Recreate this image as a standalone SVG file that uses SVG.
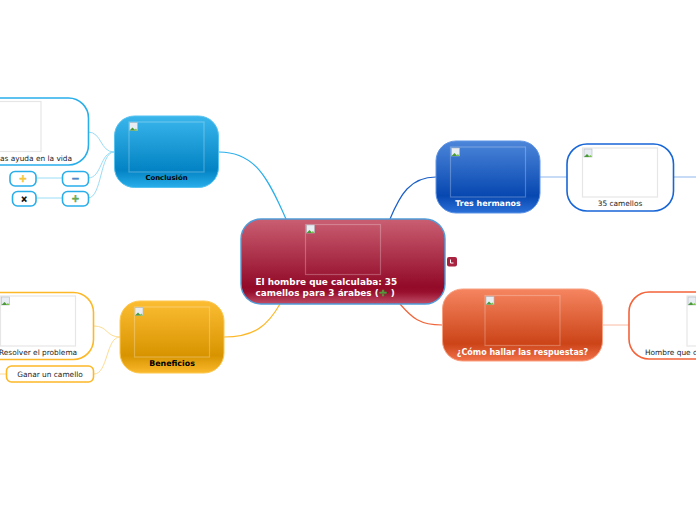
<svg xmlns="http://www.w3.org/2000/svg" width="696" height="520" viewBox="0 0 696 520">
<style>
text{font-family:"DejaVu Sans",Verdana,sans-serif;font-size:7.4px;fill:#1c1c1c}
.t{font-weight:bold;font-size:7.9px}
.w{fill:#fff}
.k{fill:#000}
.img{fill:none;stroke:#fff;stroke-opacity:.25;stroke-width:1.2}
.pic{fill:#fff;stroke:#e6e6e6;stroke-width:1.2}
.c{fill:none;stroke-width:1}
.h{stroke-width:1.2}
.n{fill:#fff;stroke-width:1.6}
.b{stroke:#29aeea}
.o{stroke:#fdb827}
.u{stroke:#1766d8}
.r{stroke:#f4633a}
.sym{font-weight:bold;font-size:10px;stroke-width:.5}
</style>
<defs>
<linearGradient id="gm" x1="0" y1="0" x2="0" y2="1"><stop offset="0" stop-color="#ca5f72"/><stop offset=".8" stop-color="#920a28"/><stop offset=".86" stop-color="#990f2e"/><stop offset="1" stop-color="#bf4e66"/></linearGradient>
<linearGradient id="gb" x1="0" y1="0" x2="0" y2="1"><stop offset="0" stop-color="#3ab6ec"/><stop offset=".76" stop-color="#0383c4"/><stop offset="1" stop-color="#28aeea"/></linearGradient>
<linearGradient id="go" x1="0" y1="0" x2="0" y2="1"><stop offset="0" stop-color="#fcbd33"/><stop offset=".76" stop-color="#d89400"/><stop offset="1" stop-color="#fab92c"/></linearGradient>
<linearGradient id="gu" x1="0" y1="0" x2="0" y2="1"><stop offset="0" stop-color="#4c86da"/><stop offset=".76" stop-color="#0747b0"/><stop offset="1" stop-color="#2a70d8"/></linearGradient>
<linearGradient id="gr" x1="0" y1="0" x2="0" y2="1"><stop offset="0" stop-color="#f58560"/><stop offset=".76" stop-color="#cc4418"/><stop offset="1" stop-color="#f2724a"/></linearGradient>
<g id="ico"><rect x="0" y="0" width="8" height="8" fill="#e8edf3" stroke="#b0b8c0" stroke-width=".6"/><path d="M0 8L3 5L6 8Z" fill="#4a9a3a"/><path d="M4 8L6.500 6L8 8Z" fill="#7cc050"/></g>
</defs>
<g id="connectors">
<path class="c h" stroke="#29aeea" d="M219 152C255 152 268 178 286 219"/>
<path class="c h" stroke="#1a5fc8" d="M436 177C410 177 400 195 390 219"/>
<path class="c h" stroke="#f0653a" d="M442 325C420 325 412 318 400 304"/>
<path class="c h" stroke="#fdb827" d="M224 337C255 337 268 325 280 304"/>
<path class="c" stroke="#8fb6ee" d="M540 177H567M673 177H696"/>
<path class="c" stroke="#fbb9a2" d="M603 325H629"/>
<path class="c" stroke="#9adcf6" d="M114 152C100 152 102 132 88 132M114 152C100 152 102 178 88 178M114 152C100 152 102 198 88 198M36 178H62M36 198H62"/>
<path class="c" stroke="#fddc92" d="M120 337C106 337 108 326 94 326M120 337C106 337 108 374 94 374M0 374H6"/>
</g>
<g id="central"><rect x="241" y="219" width="204" height="85" rx="20" fill="url(#gm)" stroke="#4f9cd8" stroke-width="1.4"/><rect class="img" x="305.500" y="224.500" width="75" height="50"/><use href="#ico" x="306.500" y="225"/><text class="t w" x="255.500" y="285" style="font-size:8.9px">El hombre que calculaba: 35</text><text class="t w" x="255.500" y="296" style="font-size:8.9px">camellos para 3 árabes (<tspan style="fill:#4f9a3c;stroke:#4f9a3c;stroke-width:.5;font-size:10.500px">÷</tspan> )</text></g>
<g id="marker"><rect x="447" y="257" width="10" height="9.500" rx="2" fill="#a8233f"/><path d="M450.500 259.500v3.500h3" fill="none" stroke="#fff" stroke-width="1"/></g>
<g id="conclusion"><rect x="114.500" y="116" width="104" height="71.500" rx="20" fill="url(#gb)" stroke="#55c2f0"/><rect class="img" x="129" y="122" width="75" height="50"/><use href="#ico" x="129.500" y="122.500"/><text class="t k" x="166.500" y="180" text-anchor="middle" style="font-size:6.900px">Conclusión</text></g>
<g id="beneficios"><rect x="120" y="301" width="104" height="72" rx="20" fill="url(#go)" stroke="#fdc850"/><rect class="img" x="134.500" y="307" width="75" height="50"/><use href="#ico" x="135" y="307.500"/><text class="t k" x="172" y="366" text-anchor="middle">Beneficios</text></g>
<g id="tres"><rect x="436" y="141" width="104" height="72" rx="20" fill="url(#gu)" stroke="#5f94e6"/><rect class="img" x="450.500" y="147" width="75" height="50"/><use href="#ico" x="451.500" y="148"/><text class="t w" x="488" y="206" text-anchor="middle">Tres hermanos</text></g>
<g id="como"><rect x="442.500" y="289" width="160" height="72" rx="20" fill="url(#gr)" stroke="#f9a080"/><rect class="img" x="485" y="295.500" width="75" height="50"/><use href="#ico" x="486" y="296.500"/><text class="t w" x="522.500" y="355" text-anchor="middle" style="font-size:8px">¿Cómo hallar las respuestas?</text></g>
<g id="n35"><rect class="n u" x="567" y="144" width="106.500" height="67" rx="20"/><rect class="pic" x="582.500" y="148" width="75" height="49"/><use href="#ico" x="584" y="149"/><text x="620" y="206" text-anchor="middle">35 camellos</text></g>
<g id="hombre"><rect class="n r" x="629" y="292" width="120" height="67" rx="20"/><rect class="pic" x="687" y="296" width="75" height="50"/><use href="#ico" x="688" y="297"/><text x="645" y="354.500">Hombre que c</text></g>
<g id="vida"><rect class="n b" x="-40" y="98" width="128.500" height="67" rx="20"/><rect class="pic" x="-34" y="101.500" width="75" height="50"/><text x="0" y="161">as ayuda en la vida</text></g>
<g id="resta"><rect class="n b" x="62.500" y="171.500" width="26" height="14.500" rx="5"/><text class="sym" x="75.500" y="182.200" text-anchor="middle" style="fill:#4f86c8;stroke:#4f86c8">−</text></g>
<g id="suma1"><rect class="n b" x="10" y="171.500" width="26" height="14.500" rx="5"/><text class="sym" x="23" y="182.200" text-anchor="middle" style="fill:#f4c63c;stroke:#f4c63c">+</text></g>
<g id="por"><rect class="n b" x="12.500" y="191.500" width="23.500" height="14.500" rx="5"/><text class="sym" x="24" y="202" text-anchor="middle" style="fill:#000;stroke:#000;font-size:8px">×</text></g>
<g id="suma2"><rect class="n b" x="62.500" y="191.500" width="26" height="14.500" rx="5"/><text class="sym" x="75.500" y="202.200" text-anchor="middle" style="fill:#6aa84f;stroke:#6aa84f">+</text></g>
<g id="resolver"><rect class="n o" x="-40" y="292.500" width="133.500" height="67" rx="20"/><rect class="pic" x="0.500" y="296" width="75" height="50"/><use href="#ico" x="1.500" y="297"/><text x="-1" y="355">Resolver el problema</text></g>
<g id="ganar"><rect class="n o" x="6.500" y="366" width="87" height="16" rx="5"/><text x="50" y="377" text-anchor="middle">Ganar un camello</text></g>
</svg>
